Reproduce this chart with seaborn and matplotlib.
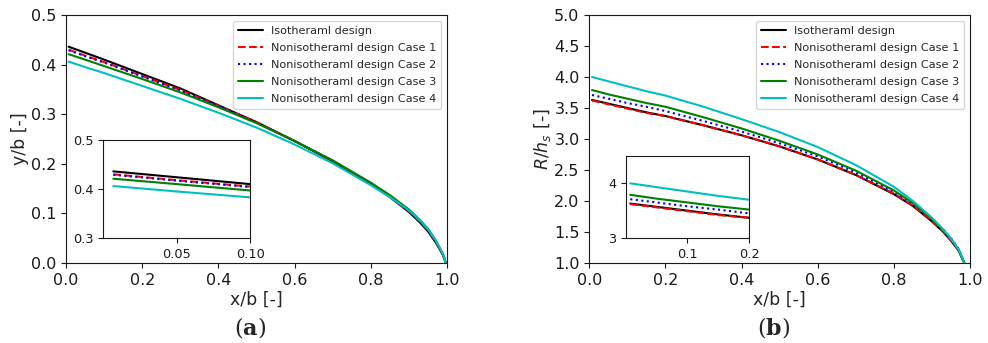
import matplotlib
matplotlib.use("Agg")
import matplotlib.pyplot as plt
import seaborn as sns

# (a) shape y/b along x/b
x_a = [0.007, 0.05, 0.1, 0.2, 0.3, 0.4, 0.5, 0.6, 0.7, 0.8, 0.85, 0.9, 0.93, 0.95, 0.97, 0.98, 0.99, 0.997]
iso_a = [0.436, 0.424, 0.410, 0.381, 0.352, 0.318, 0.284, 0.246, 0.205, 0.159, 0.133, 0.103, 0.081, 0.064, 0.042, 0.029, 0.015, 0.0]
case1_a = [0.430, 0.418, 0.405, 0.377, 0.349, 0.317, 0.284, 0.246, 0.206, 0.160, 0.134, 0.105, 0.083, 0.066, 0.044, 0.030, 0.016, 0.0]
case2_a = [0.429, 0.417, 0.404, 0.376, 0.348, 0.316, 0.283, 0.246, 0.206, 0.160, 0.135, 0.105, 0.083, 0.066, 0.044, 0.031, 0.016, 0.0]
case3_a = [0.421, 0.410, 0.397, 0.371, 0.344, 0.314, 0.282, 0.246, 0.207, 0.162, 0.137, 0.108, 0.086, 0.069, 0.046, 0.032, 0.017, 0.0]
case4_a = [0.406, 0.395, 0.383, 0.357, 0.331, 0.303, 0.273, 0.239, 0.201, 0.157, 0.133, 0.106, 0.085, 0.068, 0.046, 0.032, 0.017, 0.0]

# (b) R/h_s along x/b
x_b = [0.007, 0.05, 0.1, 0.15, 0.2, 0.3, 0.4, 0.5, 0.6, 0.7, 0.8, 0.85, 0.9, 0.93, 0.95, 0.97, 0.985]
iso_b = [3.63, 3.57, 3.50, 3.43, 3.37, 3.22, 3.06, 2.88, 2.67, 2.42, 2.11, 1.92, 1.67, 1.50, 1.36, 1.20, 1.0]
case1_b = [3.62, 3.56, 3.49, 3.42, 3.37, 3.22, 3.06, 2.88, 2.67, 2.42, 2.12, 1.93, 1.68, 1.51, 1.37, 1.21, 1.0]
case2_b = [3.71, 3.65, 3.58, 3.52, 3.45, 3.29, 3.12, 2.93, 2.72, 2.46, 2.15, 1.96, 1.71, 1.54, 1.40, 1.23, 1.0]
case3_b = [3.79, 3.72, 3.65, 3.58, 3.52, 3.35, 3.17, 2.97, 2.75, 2.49, 2.17, 1.97, 1.71, 1.53, 1.39, 1.22, 1.0]
case4_b = [4.00, 3.93, 3.85, 3.77, 3.70, 3.52, 3.32, 3.11, 2.87, 2.58, 2.23, 2.00, 1.73, 1.54, 1.39, 1.22, 1.0]

labels = ["Isotheraml design", "Nonisotheraml design Case 1", "Nonisotheraml design Case 2",
          "Nonisotheraml design Case 3", "Nonisotheraml design Case 4"]
colors = ["k", "r", "b", "g", "c"]
styles = ["-", "--", ":", "-", "-"]


def draw_lines(ax, x, series, with_labels=True):
    for y, lab, col, ls in zip(series, labels, colors, styles):
        sns.lineplot(x=x, y=y, ax=ax, color=col, linestyle=ls, linewidth=1.5,
                     label=lab if with_labels else None, legend=with_labels)


def main():
    sns.set_style("ticks", {"axes.edgecolor": "0.1", "xtick.color": "0.1", "ytick.color": "0.1"})
    plt.rcParams["font.family"] = ["DejaVu Sans"]
    plt.rcParams["mathtext.fontset"] = "dejavusans"

    fig = plt.figure(figsize=(9.88, 3.43), dpi=100)
    ax1 = fig.add_axes([0.0668, 0.2332, 0.3856, 0.7231])
    ax2 = fig.add_axes([0.5965, 0.2332, 0.3853, 0.7231])
    in1 = fig.add_axes([0.1043, 0.3061, 0.1488, 0.2857])
    in2 = fig.add_axes([0.6336, 0.3061, 0.1245, 0.2391])

    series_a = [iso_a, case1_a, case2_a, case3_a, case4_a]
    series_b = [iso_b, case1_b, case2_b, case3_b, case4_b]

    draw_lines(ax1, x_a, series_a)
    draw_lines(in1, x_a, series_a, with_labels=False)
    draw_lines(ax2, x_b, series_b)
    draw_lines(in2, x_b, series_b, with_labels=False)

    ax1.set_xlim(0, 1)
    ax1.set_ylim(0, 0.5)
    ax1.set_xlabel("x/b [-]", fontsize=12.5, labelpad=2)
    ax1.set_ylabel("y/b [-]", fontsize=12.5, labelpad=1)

    ax2.set_xlim(0, 1)
    ax2.set_ylim(1, 5)
    ax2.set_yticks([1.0, 1.5, 2.0, 2.5, 3.0, 3.5, 4.0, 4.5, 5.0])
    ax2.set_xlabel("x/b [-]", fontsize=12.5, labelpad=2)
    ax2.set_ylabel("$R/h_s$ [-]", fontsize=12.5, labelpad=1)

    for ax in (ax1, ax2):
        ax.tick_params(labelsize=11.5, length=3.5, width=0.8)
        ax.legend(loc="upper right", fontsize=8.1, frameon=True, framealpha=0.8,
                  edgecolor="0.8", fancybox=True, handlelength=2.2, borderpad=0.45,
                  labelspacing=0.62, handletextpad=0.7)

    in1.set_xlim(0, 0.1)
    in1.set_ylim(0.3, 0.5)
    in1.set_xticks([0.05, 0.10])
    in1.set_xticklabels(["0.05", "0.10"])
    in1.set_yticks([0.3, 0.4, 0.5])

    in2.set_xlim(0, 0.2)
    in2.set_ylim(3, 4.5)
    in2.set_xticks([0.1, 0.2])
    in2.set_yticks([3, 4])

    for ax in (in1, in2):
        ax.tick_params(labelsize=9.3, length=3.5, width=0.8)
        ax.set_xlabel("")
        ax.set_ylabel("")

    fig.text(0.253, 0.045, r"($\mathbf{a}$)", fontsize=16, ha="center", va="center",
             family="DejaVu Serif", math_fontfamily="dejavuserif")
    fig.text(0.783, 0.045, r"($\mathbf{b}$)", fontsize=16, ha="center", va="center",
             family="DejaVu Serif", math_fontfamily="dejavuserif")

    fig.savefig("out.png", dpi=100)


if __name__ == "__main__":
    main()
